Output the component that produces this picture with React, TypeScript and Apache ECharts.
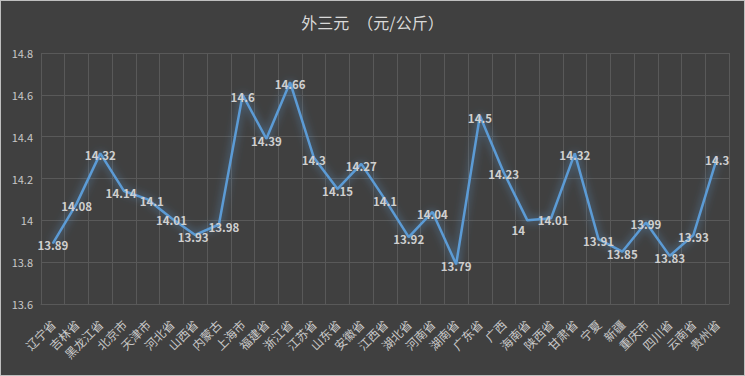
import React, { useEffect, useRef } from "react";
import * as echarts from "echarts";

const categories = ["辽宁省","吉林省","黑龙江省","北京市","天津市","河北省","山西省","内蒙古","上海市","福建省","浙江省","江苏省","山东省","安徽省","江西省","湖北省","河南省","湖南省","广东省","广西","海南省","陕西省","甘肃省","宁夏","新疆","重庆市","四川省","云南省","贵州省"];
const values = [13.89,14.08,14.32,14.14,14.1,14.01,13.93,13.98,14.6,14.39,14.66,14.3,14.15,14.27,14.1,13.92,14.04,13.79,14.5,14.23,14,14.01,14.32,13.91,13.85,13.99,13.83,13.93,14.3];
const titleText = "外三元　（元/公斤）";

// per-point label nudges (index -> [dx, dy]) to mimic the reference label placement
const labelNudges: Record<number, [number, number]> = {
  3: [-3, 2],
  4: [4, 2],
  6: [-2, 2],
  7: [5, 2],
  20: [-9, 10],
  21: [2, 2],
};

export default function App() {
  const ref = useRef<HTMLDivElement>(null);
  useEffect(() => {
    document.body.style.margin = "0";
    const chart = echarts.init(ref.current!, null, { renderer: "svg" });
    const font = "'Noto Sans CJK SC', 'Noto Sans', sans-serif";
    const seriesData = values.map((v, i) =>
      labelNudges[i] ? { value: v, label: { offset: labelNudges[i] } } : v
    );
    chart.setOption({
      animation: false,
      backgroundColor: "#404040",
      textStyle: { fontFamily: font },
      title: {
        text: titleText,
        left: "center",
        top: 8,
        textStyle: { color: "#d9d9d9", fontSize: 16, fontWeight: "normal", fontFamily: font },
      },
      grid: { left: 40, right: 15, top: 52, bottom: 71, containLabel: false },
      xAxis: {
        type: "category",
        data: categories,
        boundaryGap: true,
        axisLine: { show: true, lineStyle: { color: "#595959" } },
        axisTick: { show: false },
        splitLine: { show: true, interval: 0, lineStyle: { color: "#595959", width: 1 } },
        axisLabel: { interval: 0, rotate: 45, color: "#c8c8c8", fontSize: 12, margin: 18, fontFamily: font },
      },
      yAxis: {
        type: "value",
        min: 13.6,
        max: 14.8,
        interval: 0.2,
        axisLine: { show: false },
        axisTick: { show: false },
        splitLine: { show: true, lineStyle: { color: "#595959", width: 1 } },
        axisLabel: {
          color: "#c8c8c8",
          fontSize: 11,
          margin: 8,
          fontFamily: font,
          formatter: (v: number) => String(parseFloat(v.toFixed(2))),
        },
      },
      series: [
        {
          type: "line",
          data: seriesData,
          symbol: "circle",
          symbolSize: 1,
          showSymbol: true,
          showAllSymbol: true,
          itemStyle: { color: "#5b9bd5" },
          lineStyle: {
            color: "#5b9bd5",
            width: 2.5,
            shadowColor: "rgba(91,155,213,0.8)",
            shadowBlur: 8,
          },
          label: {
            show: true,
            position: "inside",
            offset: [0, 2],
            color: "#d0d0d0",
            fontSize: 11.5,
            fontWeight: "bold",
            fontFamily: font,
          },
        },
      ],
    });
    return () => chart.dispose();
  }, []);
  return (
    <div
      ref={ref}
      style={{ width: 745, height: 376, boxSizing: "border-box", border: "1px solid #bfbfbf" }}
    />
  );
}
